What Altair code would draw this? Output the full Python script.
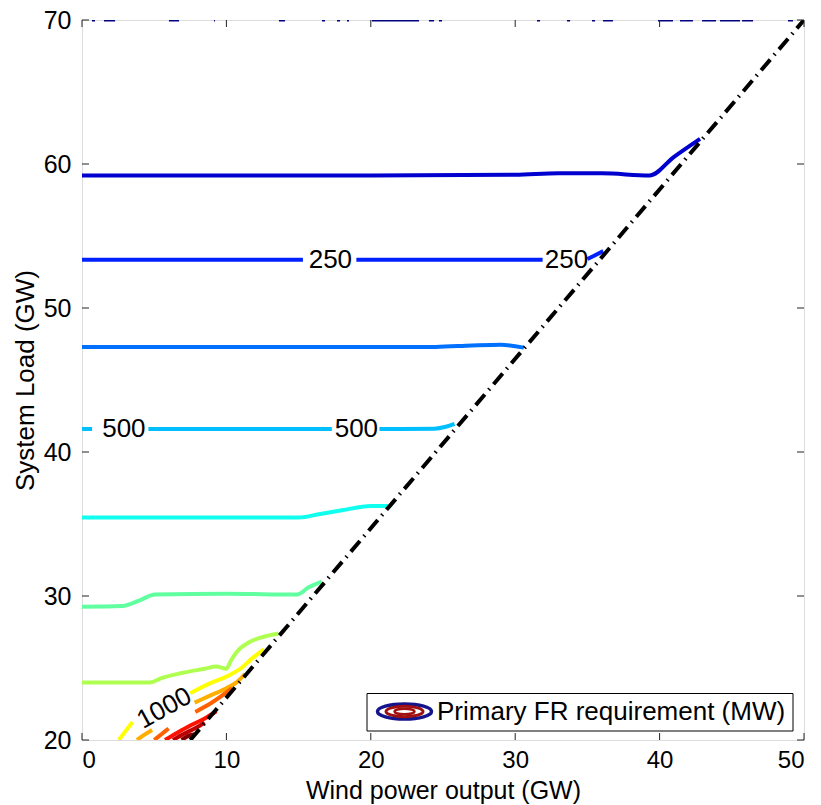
import altair as alt
import pandas as pd

# ---------------- data ----------------
levels = [0, 125, 250, 375, 500, 625, 750, 875, 1000, 1125, 1250, 1375, 1500, 1625]
level_colors = ["#000080", "#0000CF", "#0020FF", "#0070FF", "#00BFFF", "#10FFEF",
                "#60FF9F", "#AFFF50", "#FFFF00", "#FFAF00", "#FF6000", "#FF1000",
                "#BF0000", "#800000"]

# contour segments: (level, segment id, wind GW list, load GW list)
c125_x = [0, 20, 30, 33, 36, 39.3, 41, 42.8]
c125_y = [59.2, 59.2, 59.25, 59.35, 59.35, 59.2, 60.5, 61.75]

c250a_x = [0, 15.3]
c250a_y = [53.35, 53.35]
c250b_x = [19.0, 31.9]
c250b_y = [53.35, 53.35]
c250c_x = [35.0, 35.5, 36.1]
c250c_y = [53.4, 53.65, 53.95]

c375_x = [0, 24.5, 27, 29, 30.6]
c375_y = [47.3, 47.3, 47.4, 47.45, 47.25]

c500a_x = [0, 0.7]
c500a_y = [41.6, 41.6]
c500b_x = [4.6, 17.3]
c500b_y = [41.6, 41.6]
c500c_x = [20.6, 24.4, 25.2, 25.8]
c500c_y = [41.6, 41.62, 41.75, 41.95]

c625_x = [0, 15.0, 16.5, 18.0, 20.0, 21.2]
c625_y = [35.45, 35.45, 35.7, 35.95, 36.25, 36.25]

c750_x = [0, 2.8, 4.0, 5.05, 10, 14.9, 15.7, 16.6]
c750_y = [29.25, 29.3, 29.7, 30.1, 30.15, 30.1, 30.6, 31.0]

c875_x = [0, 4.7, 5.5, 6.9, 8.5, 9.3, 10.0, 10.3, 10.7, 11.6, 12.5, 13.6]
c875_y = [24.0, 24.0, 24.3, 24.65, 24.95, 25.1, 24.95, 25.5, 26.1, 26.8, 27.15, 27.4]

c1000a_x = [2.55, 3.0, 3.5]
c1000a_y = [20.0, 20.6, 21.25]
c1000b_x = [7.5, 8.9, 10.0, 11.1, 11.7, 12.6]
c1000b_y = [23.25, 23.95, 24.4, 25.05, 25.6, 26.3]

c1125a_x = [3.8, 4.3, 4.85]
c1125a_y = [20.0, 20.35, 20.7]
c1125b_x = [7.8, 8.9, 10.0, 10.7, 11.3]
c1125b_y = [22.6, 23.1, 23.6, 24.0, 24.6]

c1250a_x = [5.0, 5.5, 6.0]
c1250a_y = [20.0, 20.4, 20.8]
c1250b_x = [7.85, 9.0, 10.4]
c1250b_y = [21.95, 22.6, 23.6]

c1375_x = [5.75, 6.6, 7.5, 8.5, 9.3]
c1375_y = [20.0, 20.5, 21.0, 21.5, 22.0]

c1500_x = [6.3, 7.0, 7.8, 8.5]
c1500_y = [20.0, 20.4, 20.8, 21.2]

c1625_x = [6.9, 7.3, 7.8]
c1625_y = [20.0, 20.25, 20.4]

# level-0 contour fragments along the top edge (wind GW start / end)
top_x0 = [0.69, 1.52, 6.02, 9.14, 13.64, 16.62, 17.66, 18.35, 20.08, 24.03, 24.72,
          31.51, 33.59, 35.32, 36.08, 39.89, 41.41, 42.94, 44.18, 45.71, 48.89]
top_x1 = [0.90, 2.29, 6.72, 9.21, 14.06, 16.83, 17.87, 18.49, 23.34, 24.38, 24.93,
          31.72, 33.80, 35.53, 36.77, 40.93, 42.31, 43.91, 45.57, 46.47, 49.24]

# dash-dot boundary line
bound_x = [7.5, 50]
bound_y = [20, 70]

# contour labels
lab_text = ["250", "250", "500", "500", "1000"]
lab_x = [17.2, 33.55, 2.9, 19.0, 5.7]
lab_y = [53.3, 53.3, 41.6, 41.6, 22.2]
lab_angle = [0, 0, 0, 0, 331]

x_ticks = [0, 10, 20, 30, 40, 50]
y_ticks = [20, 30, 40, 50, 60, 70]

legend_label = "Primary FR requirement (MW)"

# ---------------- build tables ----------------
segments = [
    (125, "a", c125_x, c125_y),
    (250, "a", c250a_x, c250a_y), (250, "b", c250b_x, c250b_y), (250, "c", c250c_x, c250c_y),
    (375, "a", c375_x, c375_y),
    (500, "a", c500a_x, c500a_y), (500, "b", c500b_x, c500b_y), (500, "c", c500c_x, c500c_y),
    (625, "a", c625_x, c625_y),
    (750, "a", c750_x, c750_y),
    (875, "a", c875_x, c875_y),
    (1000, "a", c1000a_x, c1000a_y), (1000, "b", c1000b_x, c1000b_y),
    (1125, "a", c1125a_x, c1125a_y), (1125, "b", c1125b_x, c1125b_y),
    (1250, "a", c1250a_x, c1250a_y), (1250, "b", c1250b_x, c1250b_y),
    (1375, "a", c1375_x, c1375_y),
    (1500, "a", c1500_x, c1500_y),
    (1625, "a", c1625_x, c1625_y),
]
rows = []
for lvl, sid, xs, ys in segments:
    for i, (xv, yv) in enumerate(zip(xs, ys)):
        rows.append({"level": lvl, "seg": f"{lvl}-{sid}", "ord": i, "wind": xv, "load": yv})
contours = pd.DataFrame(rows)

top_df = pd.DataFrame({"wind": top_x0, "wind2": top_x1, "load": [70] * len(top_x0)})
bound_df = pd.DataFrame({"wind": bound_x, "load": bound_y})
lab_df = pd.DataFrame({"wind": lab_x, "load": lab_y, "text": lab_text, "angle": lab_angle})
xt_df = pd.DataFrame({"wind": x_ticks})
yt_df = pd.DataFrame({"load": y_ticks})

FONT = "Liberation Sans"
xscale = alt.Scale(domain=[0, 50], nice=False, zero=False)
yscale = alt.Scale(domain=[20, 70], nice=False, zero=False)

XT = "Wind power output (GW)"
YT = "System Load (GW)"
x_axis = alt.Axis(values=x_ticks, ticks=False, tickSize=0, domain=False, grid=False,
                  labelFont=FONT, labelFontSize=24, labelColor="black", labelPadding=8,
                  titleFont=FONT, titleFontSize=25,
                  titleFontWeight="normal", titleColor="black", titleY=58,
                  titleBaseline="alphabetic")
y_axis = alt.Axis(values=y_ticks, ticks=False, tickSize=0, domain=False, grid=False,
                  labelFont=FONT, labelFontSize=25, labelColor="black", labelPadding=11,
                  titleFont=FONT, titleFontSize=26,
                  titleFontWeight="normal", titleColor="black", titleX=-57, titleY=360,
                  titleAngle=270, titleBaseline="middle", titleAlign="center")


def X(field="wind"):
    return alt.X(f"{field}:Q", scale=xscale, axis=x_axis, title=XT)


def Y(field="load"):
    return alt.Y(f"{field}:Q", scale=yscale, axis=y_axis, title=YT)


lines = alt.Chart(contours).mark_line(strokeWidth=4, clip=True, strokeCap="butt",
                                      interpolate="monotone").encode(
    x=X(), y=Y(),
    color=alt.Color("level:Q", scale=alt.Scale(type="threshold", domain=levels[1:], range=level_colors), legend=None),
    detail="seg:N",
    order="ord:Q",
)

top_frag = alt.Chart(top_df).mark_rule(strokeWidth=3, clip=True, color="#000080").encode(
    x=X(), x2="wind2:Q", y=Y(),
)

boundary = alt.Chart(bound_df).mark_line(
    color="black", strokeWidth=4, strokeDash=[14, 6, 1.5, 6], strokeCap="butt", clip=True
).encode(x=X(), y=Y())

labels = alt.Chart(lab_df).mark_text(font=FONT, fontSize=26, color="black",
                                     align="center", baseline="middle").encode(
    x=X(), y=Y(),
    text="text:N",
    angle=alt.Angle("angle:Q", scale=None),
)

tick_color = "#222222"
xt_bottom = alt.Chart(xt_df).mark_rule(color=tick_color, strokeWidth=1).encode(
    x=X(), y=alt.value(720), y2=alt.value(713))
xt_top = alt.Chart(xt_df).mark_rule(color=tick_color, strokeWidth=1).encode(
    x=X(), y=alt.value(0), y2=alt.value(7))
yt_left = alt.Chart(yt_df).mark_rule(color=tick_color, strokeWidth=1).encode(
    y=Y(), x=alt.value(0), x2=alt.value(7))
yt_right = alt.Chart(yt_df).mark_rule(color=tick_color, strokeWidth=1).encode(
    y=Y(), x=alt.value(722), x2=alt.value(715))

# legend box (pixel placement inside the plot area)
leg_df = pd.DataFrame({"label": [legend_label]})
leg_box = alt.Chart(leg_df).mark_rect(fill="white", stroke="black", strokeWidth=1).encode(
    x=alt.value(285), x2=alt.value(711), y=alt.value(673.5), y2=alt.value(711))
ELL = "M-1,0 A1,0.28 0 1,1 1,0 A1,0.28 0 1,1 -1,0 Z"
leg_e1 = alt.Chart(leg_df).mark_point(shape=ELL, filled=False, stroke="#14148c", strokeWidth=3.5,
                                      size=54 * 54, opacity=1).encode(
    x=alt.value(322.5), y=alt.value(691.5))
leg_e2 = alt.Chart(leg_df).mark_point(shape=ELL, filled=False, stroke="#a01010", strokeWidth=3,
                                      size=37 * 37, opacity=1).encode(
    x=alt.value(322.5), y=alt.value(691.5))
leg_e3 = alt.Chart(leg_df).mark_point(shape=ELL, filled=False, stroke="#a01010", strokeWidth=2.5,
                                      size=20 * 20, opacity=1).encode(
    x=alt.value(322.5), y=alt.value(691.5))
leg_text = alt.Chart(leg_df).mark_text(font=FONT, fontSize=26, color="black", align="left",
                                       baseline="alphabetic").encode(
    x=alt.value(355), y=alt.value(700), text="label:N")

chart = alt.layer(
    lines, top_frag, boundary, labels, xt_bottom, xt_top, yt_left, yt_right,
    leg_box, leg_e1, leg_e2, leg_e3, leg_text
).properties(
    width=722, height=720,
    autosize=alt.AutoSizeParams(type="none"),
    padding={"left": 82, "top": 20, "right": 17, "bottom": 65},
).configure_view(stroke="black", strokeWidth=1.5, fill="white").configure(background="white")

chart.save("out.html", embed_options={"renderer": "svg", "actions": False})
